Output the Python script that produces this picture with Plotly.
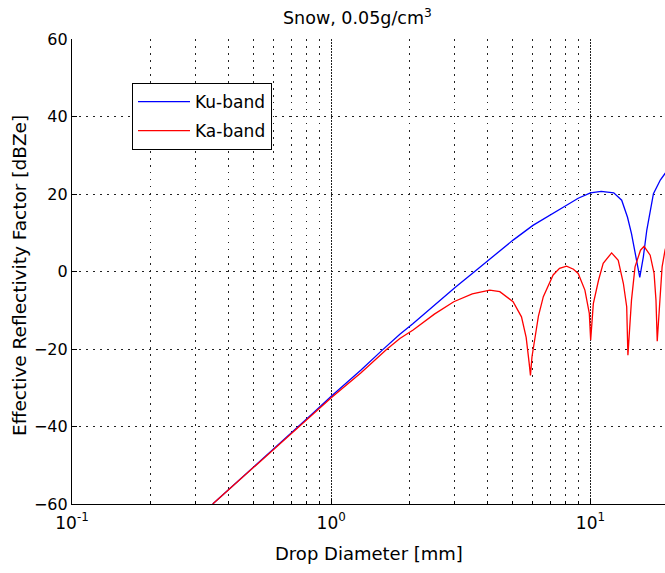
import plotly.graph_objects as go

# Effective reflectivity vs. drop diameter for snow (0.05 g/cm^3)
ku_diameter = [0.349, 0.5, 0.7, 0.85, 1.0, 1.3, 1.585, 1.84, 2.07, 2.5, 3.02, 3.5, 4.0,
               4.5, 5.03, 6.0, 7.18, 8.09, 8.97, 10.0, 11.0, 12.3, 13.2, 13.9, 14.4,
               15.1, 15.5, 16.0, 16.5, 17.5, 18.6, 19.4, 20.0]
ku_dbz = [-60, -50.6, -41.8, -36.6, -32.2, -25.5, -20.1, -16.2, -13.4, -8.6, -4.0, -0.5, 2.6,
          5.4, 8.1, 11.9, 14.9, 17.1, 18.9, 20.3, 20.7, 20.3, 18.4, 14.0, 9.8,
          2.9, -1.5, 3.8, 10.7, 20.1, 23.6, 25.3, 26.5]

ka_diameter = [0.349, 0.5, 0.7, 0.85, 1.0, 1.3, 1.63, 1.84, 2.07, 2.5, 2.97, 3.5, 4.09, 4.47,
               5.03, 5.42, 5.65, 5.8, 5.87, 5.95, 6.05, 6.3, 6.58, 7.18, 7.6, 8.09,
               8.6, 8.97, 9.52, 9.9, 10.02, 10.26, 10.75, 11.2, 12.07, 12.8, 13.4,
               13.8, 13.95, 14.4, 14.86, 15.6, 16.1, 17.0, 17.6, 17.9, 18.1, 18.6,
               18.9, 19.4, 20.0]
ka_dbz = [-60, -50.6, -41.8, -36.7, -32.6, -26.2, -20.2, -17.3, -15.1, -11.0, -7.8, -5.8, -4.8,
          -5.2, -7.8, -11.7, -17.0, -23.5, -26.8, -22.0, -18.6, -11.5, -6.5, -0.9, 0.8,
          1.4, 0.6, -0.5, -4.8, -10.8, -17.7, -8.3, -2.2, 2.1, 4.8, 2.9, -3.1,
          -9.1, -21.6, -7.4, 1.2, 5.5, 6.5, 4.2, -0.5, -7.4, -18.0, -5.7,
          1.2, 5.5, 8.5]

y_ticks = [-60, -40, -20, 0, 20, 40, 60]
x_major = [0.1, 1, 10]
x_major_text = ["10<sup>-1</sup>", "10<sup>0</sup>", "10<sup>1</sup>"]
x_minor = [0.2, 0.3, 0.4, 0.5, 0.6, 0.7, 0.8, 0.9, 2, 3, 4, 5, 6, 7, 8, 9]

FONT = "DejaVu Sans"
W, H = 665, 573
ML, MR, MT, MB = 72, 0, 39, 69

fig = go.Figure()
fig.add_trace(go.Scatter(x=ku_diameter, y=ku_dbz, mode="lines", name="Ku-band",
                         line=dict(color="#0000ff", width=1.3), legendgroup="ku"))
fig.add_trace(go.Scatter(x=ka_diameter, y=ka_dbz, mode="lines", name="Ka-band",
                         line=dict(color="#ff0000", width=1.3), legendgroup="ka"))

pw = W - ML - MR
ph = H - MT - MB


def px_x(p):
    return (p - ML) / pw


def px_y(p):
    return (H - MB - p) / ph


fig.update_layout(
    width=W, height=H,
    margin=dict(l=ML, r=MR, t=MT, b=MB, pad=0),
    paper_bgcolor="white", plot_bgcolor="white",
    font=dict(family=FONT, size=16, color="black"),
    showlegend=True,
    legend=dict(x=px_x(132), y=px_y(83), xanchor="left", yanchor="top",
                bordercolor="black", borderwidth=1, bgcolor="white",
                font=dict(family=FONT, size=17), tracegroupgap=4,
                itemwidth=52),
    xaxis=dict(
        type="log", range=[-1, 1 + (665 - 590.5) / 259.0],
        tickmode="array", tickvals=x_major, ticktext=x_major_text,
        ticks="inside", ticklen=5, tickcolor="black", tickwidth=1,
        showline=True, linecolor="black", linewidth=1.3, mirror=False,
        showgrid=True, gridcolor="#222222", gridwidth=1, griddash="1.5px,1.5px",
        minor=dict(tickmode="array", tickvals=x_minor, ticks="inside", ticklen=3,
                   tickcolor="black", showgrid=True, gridcolor="#222222",
                   gridwidth=1, griddash="1.5px,5.5px"),
        tickfont=dict(family=FONT, size=17), ticklabelstandoff=3,
        zeroline=False,
    ),
    yaxis=dict(
        range=[-60, 60], tickmode="array", tickvals=y_ticks,
        ticks="inside", ticklen=5, tickcolor="black",
        showline=True, linecolor="black", linewidth=1.3, mirror=False,
        showgrid=True, gridcolor="#222222", gridwidth=1, griddash="1.5px,5.5px",
        tickfont=dict(family=FONT, size=16),
        zeroline=False,
    ),
    annotations=[
        dict(text="Snow, 0.05g/cm<sup>3</sup>", xref="paper", yref="paper",
             x=px_x(357), y=px_y(17), xanchor="center", yanchor="middle",
             showarrow=False, font=dict(family=FONT, size=17.5)),
        dict(text="Drop Diameter [mm]", xref="paper", yref="paper",
             x=px_x(369), y=px_y(553), xanchor="center", yanchor="middle",
             showarrow=False, font=dict(family=FONT, size=18)),
        dict(text="Effective Reflectivity Factor [dBZe]", xref="paper", yref="paper",
             x=px_x(19), y=px_y(276), xanchor="center", yanchor="middle",
             textangle=-90, showarrow=False, font=dict(family=FONT, size=18.5)),
    ],
)

fig.write_html("out.html")
